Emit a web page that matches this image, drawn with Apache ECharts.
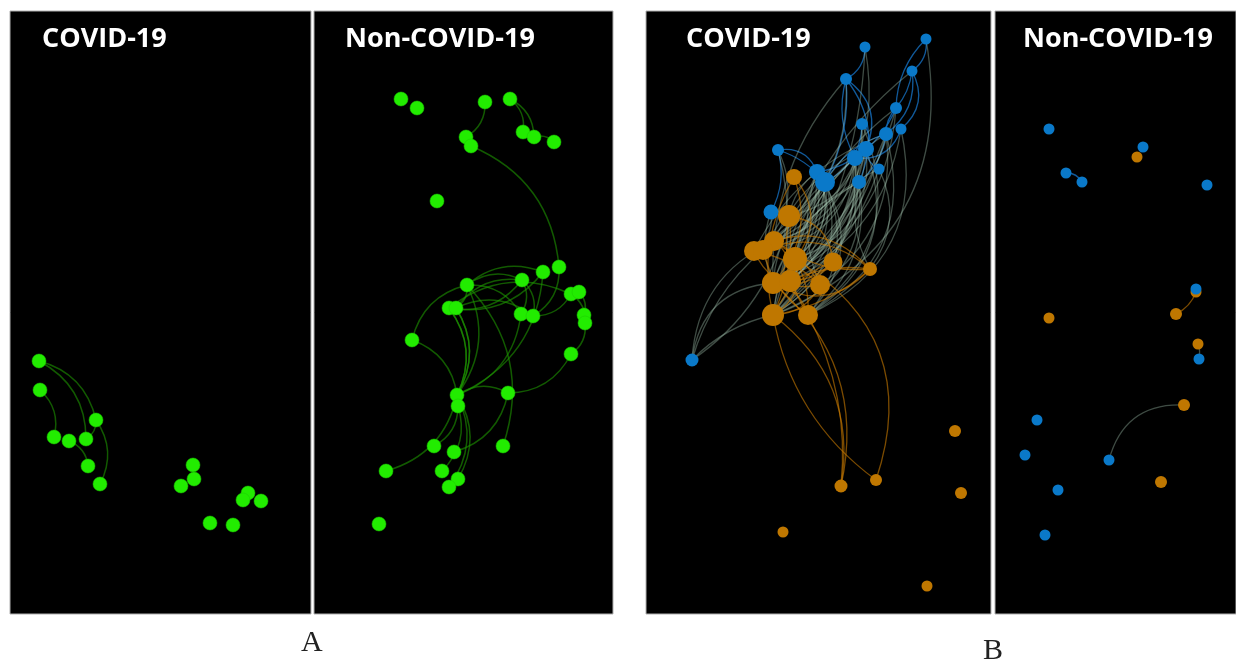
<!DOCTYPE html>
<html>
<head>
<meta charset="utf-8">
<script src="https://cdn.jsdelivr.net/npm/echarts@6.0.0/dist/echarts.min.js"></script>
<style>
  html, body { margin: 0; background: #fff; }
  #chart { width: 1236px; height: 661px; }
</style>
</head>
<body>
<div id="chart"></div>
<script>
// node positions, in picture pixels (x, y)
// A, COVID-19 panel
const nodesA1 = [[39,361],[40,390],[96,420],[54,437],[69,441],[86,439],[88,466],[100,484],
  [193,465],[194,479],[181,486],[248,493],[243,500],[261,501],[210,523],[233,525]]
const edgesA1 = '0-2,0-5,1-3,2-5,2-7,4-6'

// A, Non-COVID-19 panel
const nodesA2 = [[401,99],[417,108],[485,102],[510,99],[466,137],[471,146],[523,132],[534,137],[554,142],
  [437,201],[559,267],[543,272],[522,280],[467,285],[571,294],[579,292],[449,308],[456,308],[521,314],
  [533,316],[584,315],[585,323],[412,340],[571,354],[457,395],[458,406],[508,393],[434,446],[454,452],
  [503,446],[386,471],[442,471],[458,479],[449,487],[379,524]]
const edgesA2 = '2-4,3-6,3-7,6-7,7-8,5-10,13-17,13-24,17-24,16-24,16-24,17-24,22-13,22-24,13-12,13-11,' +
  '17-12,17-19,12-18,12-19,10-19,11-16,11-24,14-19,14-21,20-21,15-20,21-23,23-26,24-26,24-30,26-28,' +
  '25-27,25-31,24-32,24-33,13-29,18-24,16-14,12-16,13-18'

// B, COVID-19 panel: group 0 = blue, 1 = orange, third value = node size
const nodesB1 = [[865,47,11,0],[926,39,11,0],[912,71,11,0],[846,79,12,0],[896,108,12,0],[862,124,12,0],
  [901,129,11,0],[886,134,14,0],[866,149,16,0],[855,158,16,0],[879,169,11,0],[778,150,12,0],[817,172,16,0],
  [825,182,20,0],[859,182,14,0],[771,212,15,0],[692,360,13,0],
  [794,177,16,1],[789,216,22,1],[774,241,20,1],[754,251,20,1],[763,250,20,1],[795,259,24,1],[833,262,19,1],
  [870,269,14,1],[773,283,22,1],[790,281,22,1],[820,285,20,1],[773,315,22,1],[808,315,20,1],[841,486,13,1],
  [876,480,12,1],[955,431,12,1],[961,493,12,1],[783,532,11,1],[927,586,11,1]]
const edgesB1 = '0-3,3-9,3-13,3-8,1-2,1-4,2-4,2-6,2-7,4-7,4-9,5-8,5-13,7-13,8-12,6-9,10-8,14-7,11-13,' +
  '11-12,3-14,15-11,' +
  '13-18,13-19,13-22,13-25,13-26,13-28,13-29,12-18,12-19,12-22,12-25,12-27,12-28,8-22,8-25,8-26,8-28,' +
  '8-29,9-19,9-22,9-23,9-26,9-28,7-22,7-25,7-29,7-27,14-22,14-26,14-28,14-29,10-25,10-28,5-18,5-25,' +
  '4-28,4-26,6-29,6-25,2-28,0-28,0-20,3-20,3-25,11-28,11-20,15-20,15-25,16-28,16-25,16-19,16-18,16-21,' +
  '1-28,10-24,14-24,12-20,9-21,8-21,7-20,13-20,12-29,9-25,8-19,7-28,5-29,4-25,14-25,13-21,12-26,' +
  '17-25,17-28,18-28,18-23,19-26,19-24,20-27,20-24,21-24,21-29,22-29,22-28,23-25,23-28,24-28,24-25,' +
  '25-29,26-23,26-24,27-20,27-28,18-29,19-27,17-22,28-30,28-31,29-30,22-31,25-30'

// B, Non-COVID-19 panel
const nodesB2 = [[1137,157,11,1],[1049,318,11,1],[1176,314,12,1],[1196,292,11,1],[1198,344,11,1],
  [1184,405,12,1],[1161,482,12,1],
  [1049,129,11,0],[1143,147,11,0],[1066,173,11,0],[1082,182,11,0],[1207,185,11,0],[1196,289,11,0],
  [1199,359,11,0],[1037,420,11,0],[1025,455,11,0],[1109,460,11,0],[1058,490,11,0],[1045,535,11,0]]
const edgesB2 = '9-10,2-3,4-13,16-5'

const panelTitles = ['COVID-19', 'Non-COVID-19', 'COVID-19', 'Non-COVID-19']

const panels = [
  { left: 10, top: 11, width: 301, height: 603 },
  { left: 314, top: 11, width: 299, height: 603 },
  { left: 646, top: 11, width: 345, height: 603 },
  { left: 995, top: 11, width: 241, height: 603 }
]
const titlePos = [[42, 26], [345, 26], [686, 26], [1023, 26]]

const GREEN = '#22ec00'
const BLUE = '#0a79c9'
const ORANGE = '#bf7700'

function parseEdges (s) {
  return s.split(',').map(p => p.split('-').map(Number))
}

const chart = echarts.init(document.getElementById('chart'))

const grid = panels.map(p => ({
  left: p.left, top: p.top, width: p.width, height: p.height,
  show: true, backgroundColor: '#000', borderColor: '#b0b0b0', borderWidth: 1
}))
const xAxis = panels.map((p, i) => ({
  gridIndex: i, type: 'value', min: p.left, max: p.left + p.width, show: false
}))
const yAxis = panels.map((p, i) => ({
  gridIndex: i, type: 'value', inverse: true, min: p.top, max: p.top + p.height, show: false
}))

function greenSeries (i, nodes, edges) {
  return {
    type: 'graph',
    coordinateSystem: 'cartesian2d',
    xAxisIndex: i,
    yAxisIndex: i,
    symbol: 'circle',
    symbolSize: 14,
    data: nodes.map(n => ({ value: [n[0], n[1]] })),
    links: parseEdges(edges).map(e => ({ source: e[0], target: e[1] })),
    itemStyle: { color: GREEN, borderColor: '#1cc800', borderWidth: 0.5 },
    lineStyle: { color: 'rgba(30,150,0,0.6)', width: 1.5, curveness: 0.3, opacity: 1 },
    emphasis: { disabled: true },
    silent: true
  }
}

const curves = [0.3, -0.2, 0.15, 0.4]

function bSeries (i, nodes, edges) {
  return {
    type: 'graph',
    coordinateSystem: 'cartesian2d',
    xAxisIndex: i,
    yAxisIndex: i,
    symbol: 'circle',
    data: nodes.map(n => ({
      value: [n[0], n[1]],
      symbolSize: n[2],
      itemStyle: { color: n[3] ? ORANGE : BLUE }
    })),
    links: parseEdges(edges).map((e, k) => {
      const g1 = nodes[e[0]][3]
      const g2 = nodes[e[1]][3]
      let color = 'rgba(165,200,180,0.38)'
      if (g1 === 0 && g2 === 0) color = 'rgba(20,105,180,0.85)'
      if (g1 === 1 && g2 === 1) color = 'rgba(205,125,0,0.6)'
      return {
        source: e[0],
        target: e[1],
        lineStyle: { color: color, curveness: curves[k % 4] }
      }
    }),
    lineStyle: { width: 1.3, opacity: 1 },
    emphasis: { disabled: true },
    silent: true
  }
}

const title = panelTitles.map((t, i) => ({
  text: t,
  left: titlePos[i][0],
  top: titlePos[i][1],
  padding: 0,
  textStyle: { color: '#fff', fontFamily: 'Open Sans', fontWeight: 'bold', fontSize: 27 }
}))
title.push(
  { text: 'A', left: 301, top: 628, padding: 0,
    textStyle: { color: '#222', fontFamily: 'Liberation Serif', fontWeight: 'normal', fontSize: 30 } },
  { text: 'B', left: 983, top: 636, padding: 0,
    textStyle: { color: '#222', fontFamily: 'Liberation Serif', fontWeight: 'normal', fontSize: 30 } }
)

chart.setOption({
  animation: false,
  backgroundColor: '#fff',
  title: title,
  grid: grid,
  xAxis: xAxis,
  yAxis: yAxis,
  series: [
    greenSeries(0, nodesA1, edgesA1),
    greenSeries(1, nodesA2, edgesA2),
    bSeries(2, nodesB1, edgesB1),
    bSeries(3, nodesB2, edgesB2)
  ]
})
</script>
</body>
</html>
